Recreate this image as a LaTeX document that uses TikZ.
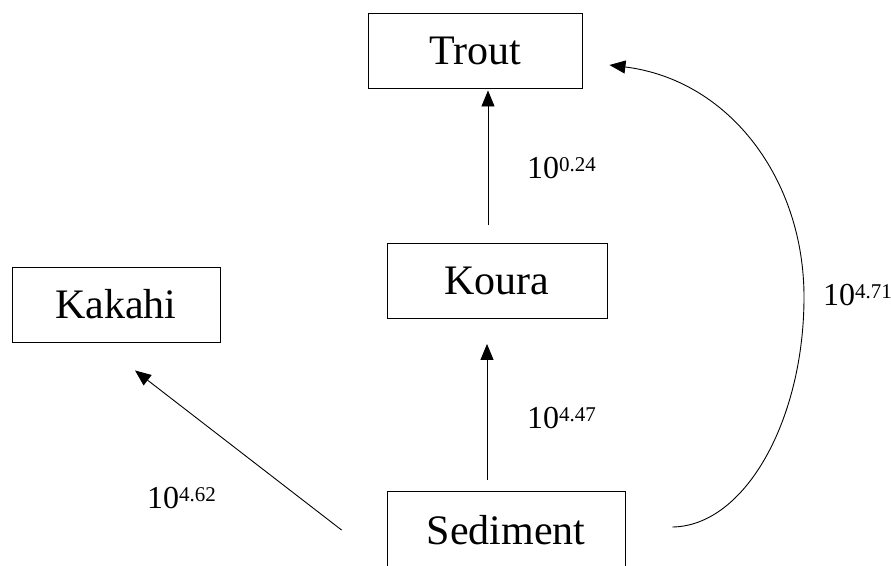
\documentclass[tikz,border=0pt]{standalone}
\usepackage{fontspec}
\setmainfont{Liberation Serif}
\usetikzlibrary{arrows.meta}
\newcommand\supnum[1]{\raisebox{7pt}{\fontsize{21}{24}\selectfont #1}}
\begin{document}
\begin{tikzpicture}[x=1pt,y=-1pt,
  box/.style={draw, line width=0.9pt, inner sep=0pt, minimum height=75pt, font=\fontsize{42}{50}\selectfont},
  arr/.style={line width=0.9pt, -{Triangle[length=16pt,width=13pt]}},
  lab/.style={anchor=base west, inner sep=0pt, font=\fontsize{32}{38}\selectfont}]
\useasboundingbox (0,0) rectangle (891,565);
\clip (0,0) rectangle (891,565);
\node[box, minimum width=214pt] (trout) at (475,50.5) {Trout};
\node[box, minimum width=220pt] (koura) at (497,281) {Koura};
\node[box, minimum width=208pt] (kakahi) at (116,304.5) {Kakahi};
\node[box, minimum width=238pt, minimum height=78pt] (sed) at (506,530) {Sediment};
\coordinate (ax) at (488,0);
\coordinate (bx) at (487,0);
\draw[arr, shorten <=18pt, shorten >=2pt] (koura.north -| ax) -- (trout.south -| ax);
\draw[arr, shorten <=11pt, shorten >=25pt] (sed.north -| bx) -- (koura.south -| bx);
\draw[arr] ([xshift=-45pt]sed.west) -- ([shift={(19,28)}]kakahi.south);
\draw[arr] ([shift={(47,-3)}]sed.east) .. controls (745,526) and (804,420) .. (804,297)
  .. controls (804,180) and (730,80) .. ([shift={(27,14.5)}]trout.east);
\node[lab] (l1) at (527,178) {10\supnum{0.24}};
\node[lab] (l2) at (527,428) {10\supnum{4.47}};
\node[lab] (l3) at (823,305) {10\supnum{4.71}};
\node[lab] (l4) at (147,508) {10\supnum{4.62}};
\end{tikzpicture}
\end{document}
